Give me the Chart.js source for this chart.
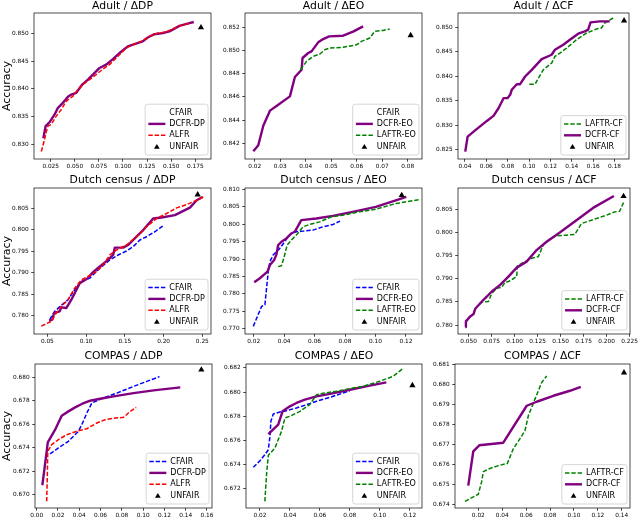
<!DOCTYPE html>
<html><head><meta charset="utf-8">
<script src="https://cdn.jsdelivr.net/npm/chart.js@4.4.0/dist/chart.umd.min.js"></script>
<style>
html,body{margin:0;padding:0;background:#fff;}
#wrap{position:relative;width:640px;height:518px;overflow:hidden;background:#fff;}
#wrap canvas{position:absolute;left:0;top:0;}
</style></head><body><div id="wrap"></div>
<script>
// ---------------- DATA ----------------
// Adult / ΔDP
const adultDP_xTicks = [0.025,0.05,0.075,0.1,0.125,0.15,0.175];
const adultDP_yTicks = [0.83,0.835,0.84,0.845,0.85];
const adultDP_CFAIR = [];
const adultDP_DCFR = [[0.0174,0.8311],[0.0198,0.8333],[0.0239,0.8340],[0.0291,0.8354],[0.0325,0.8366],[0.0377,0.8375],[0.0429,0.8386],[0.0464,0.8390],[0.0515,0.8393],[0.0577,0.8408],[0.0636,0.8417],[0.0688,0.8426],[0.0757,0.8438],[0.0826,0.8444],[0.0895,0.8454],[0.0964,0.8465],[0.1050,0.8477],[0.1119,0.8481],[0.1205,0.8486],[0.1257,0.8493],[0.1326,0.8499],[0.1413,0.8501],[0.1482,0.8504],[0.1585,0.8514],[0.1689,0.8519],[0.1734,0.8521]];
const adultDP_ALFR = [[0.0153,0.8287],[0.0181,0.8305],[0.0205,0.8323],[0.0222,0.8333],[0.0256,0.8336],[0.0308,0.8351],[0.0360,0.8363],[0.0412,0.8378],[0.0481,0.8387],[0.0533,0.8399],[0.0584,0.8408],[0.0653,0.8417],[0.0722,0.8426],[0.0791,0.8436],[0.0860,0.8444],[0.0947,0.8459],[0.1033,0.8474],[0.1102,0.8480],[0.1188,0.8486],[0.1275,0.8495],[0.1361,0.8501],[0.1447,0.8503],[0.1533,0.8510],[0.1620,0.8516],[0.1706,0.8519]];
const adultDP_UNFAIR = [[0.1809,0.8511]];

// Adult / ΔEO
const adultEO_xTicks = [0.02,0.03,0.04,0.05,0.06,0.07,0.08];
const adultEO_yTicks = [0.842,0.844,0.846,0.848,0.85,0.852];
const adultEO_CFAIR = [];
const adultEO_DCFR = [[0.01948,0.84131],[0.02143,0.84183],[0.02339,0.84352],[0.0260,0.84482],[0.02926,0.84533],[0.03382,0.84605],[0.03578,0.84772],[0.03839,0.84835],[0.03878,0.84936],[0.0410,0.84979],[0.0423,0.84993],[0.04491,0.85071],[0.04686,0.85099],[0.04921,0.85122],[0.05469,0.85128],[0.0586,0.85163],[0.06251,0.85209]];
const adultEO_LAFTR = [[0.0380,0.84835],[0.04034,0.84907],[0.04295,0.8495],[0.04556,0.8497],[0.04751,0.85007],[0.04947,0.85022],[0.05469,0.85028],[0.0599,0.8505],[0.06186,0.85079],[0.06512,0.85108],[0.06708,0.85166],[0.07034,0.85174],[0.07294,0.85186]];
const adultEO_UNFAIR = [[0.08116,0.85131]];

// Adult / ΔCF
const adultCF_xTicks = [0.04,0.06,0.08,0.10,0.12,0.14,0.16,0.18];
const adultCF_yTicks = [0.825,0.83,0.835,0.84,0.845,0.85];
const adultCF_LAFTR = [[0.1003,0.83835],[0.1056,0.83835],[0.1087,0.83958],[0.1133,0.84128],[0.1211,0.84265],[0.1242,0.84401],[0.1289,0.84469],[0.1351,0.84571],[0.1444,0.84741],[0.1537,0.84877],[0.163,0.84959],[0.1677,0.8498],[0.1708,0.85082],[0.1786,0.85184]];
const adultCF_DCFR = [[0.0403,0.8246],[0.0425,0.82766],[0.0481,0.82868],[0.0605,0.83086],[0.0667,0.83189],[0.0714,0.83345],[0.0761,0.8355],[0.0798,0.8355],[0.0823,0.83618],[0.0838,0.8372],[0.0885,0.83835],[0.0916,0.83835],[0.0963,0.83992],[0.1025,0.84128],[0.1118,0.84346],[0.1211,0.84435],[0.1242,0.84537],[0.132,0.84639],[0.1382,0.84741],[0.146,0.84864],[0.1522,0.84911],[0.1553,0.84946],[0.1575,0.85095],[0.1662,0.85116],[0.1755,0.85116]];
const adultCF_UNFAIR = [[0.1889,0.85129]];

// Dutch census / ΔDP
const dutchDP_xTicks = [0.05,0.10,0.15,0.20,0.25];
const dutchDP_yTicks = [0.78,0.785,0.79,0.795,0.80,0.805];
const dutchDP_CFAIR = [[0.053,0.77907],[0.0595,0.781],[0.0681,0.7824],[0.0767,0.78371],[0.0853,0.78604],[0.094,0.78797],[0.1047,0.78874],[0.1177,0.79107],[0.1306,0.793],[0.1414,0.79416],[0.1521,0.79509],[0.1608,0.7961],[0.1694,0.79765],[0.178,0.79842],[0.1888,0.79958],[0.1974,0.80074],[0.2008,0.80113]];
const dutchDP_DCFR = [[0.0522,0.77884],[0.0565,0.77907],[0.0586,0.78062],[0.0659,0.7810],[0.0681,0.78193],[0.0746,0.78178],[0.081,0.78371],[0.0918,0.78759],[0.1013,0.78859],[0.109,0.79014],[0.1177,0.79146],[0.1284,0.793],[0.1349,0.79416],[0.1371,0.79587],[0.1478,0.79587],[0.1543,0.79649],[0.1651,0.79842],[0.1737,0.79997],[0.1866,0.80268],[0.1974,0.80291],[0.2146,0.80345],[0.234,0.80523],[0.2427,0.80694],[0.2504,0.80771]];
const dutchDP_ALFR = [[0.0422,0.77753],[0.0552,0.77868],[0.0616,0.78062],[0.0681,0.78217],[0.0767,0.78371],[0.0853,0.78642],[0.094,0.78836],[0.1047,0.78936],[0.1134,0.79029],[0.122,0.79184],[0.1306,0.79416],[0.1392,0.79533],[0.1521,0.79649],[0.1651,0.79842],[0.178,0.80074],[0.1909,0.80268],[0.2039,0.80384],[0.2168,0.80515],[0.2297,0.80593],[0.2427,0.80694],[0.2513,0.80771]];
const dutchDP_UNFAIR = [[0.244,0.80825]];

// Dutch census / ΔEO
const dutchEO_xTicks = [0.02,0.04,0.06,0.08,0.10,0.12];
const dutchEO_yTicks = [0.77,0.775,0.78,0.785,0.79,0.795,0.80,0.805,0.81];
const dutchEO_CFAIR = [[0.0198,0.77068],[0.0252,0.7764],[0.0274,0.77687],[0.0296,0.78639],[0.0307,0.78925],[0.0328,0.79115],[0.035,0.7921],[0.0372,0.79306],[0.0404,0.79496],[0.0426,0.79639],[0.0448,0.79734],[0.048,0.79782],[0.0524,0.79801],[0.0589,0.79829],[0.0654,0.79924],[0.072,0.79991],[0.0767,0.80086]];
const dutchEO_DCFR = [[0.0204,0.78334],[0.0241,0.78449],[0.0291,0.78639],[0.0307,0.7883],[0.0335,0.78972],[0.035,0.79134],[0.0361,0.79401],[0.0383,0.79496],[0.0415,0.79591],[0.0448,0.79734],[0.047,0.79782],[0.0513,0.80115],[0.0611,0.80162],[0.072,0.80238],[0.085,0.80353],[0.1002,0.80495],[0.1133,0.80686],[0.1202,0.80781]];
const dutchEO_LAFTR = [[0.0361,0.78782],[0.0383,0.7881],[0.0398,0.7902],[0.042,0.79401],[0.0448,0.79544],[0.048,0.79686],[0.0524,0.79924],[0.0567,0.79991],[0.0633,0.80067],[0.0709,0.8021],[0.0785,0.80257],[0.0894,0.80353],[0.1002,0.80429],[0.1133,0.80591],[0.1290,0.80705]];
const dutchEO_UNFAIR = [[0.1172,0.80829]];

// Dutch census / ΔCF
const dutchCF_xTicks = [0.05,0.075,0.10,0.125,0.15,0.175,0.20,0.225];
const dutchCF_yTicks = [0.78,0.785,0.79,0.795,0.80,0.805];
const dutchCF_LAFTR = [[0.0619,0.78454],[0.0644,0.78497],[0.0716,0.78511],[0.0753,0.78691],[0.0807,0.78798],[0.0861,0.7882],[0.0897,0.78928],[0.0933,0.78942],[0.0994,0.79014],[0.1023,0.7905],[0.103,0.7928],[0.1113,0.79373],[0.1186,0.79445],[0.1258,0.79481],[0.1312,0.79732],[0.1384,0.79861],[0.1456,0.79933],[0.1564,0.79947],[0.1655,0.79961],[0.1727,0.80198],[0.1781,0.80234],[0.1889,0.80306],[0.1997,0.80378],[0.2088,0.8045],[0.2142,0.80464],[0.2185,0.80651]];
const dutchCF_DCFR = [[0.0464,0.77958],[0.0471,0.7808],[0.0518,0.78188],[0.0554,0.78238],[0.0572,0.78353],[0.0662,0.78547],[0.0753,0.78727],[0.0843,0.7887],[0.0933,0.7905],[0.1023,0.79244],[0.1131,0.79373],[0.124,0.79624],[0.1348,0.79804],[0.1492,0.80005],[0.1673,0.8027],[0.1853,0.80536],[0.208,0.80794]];
const dutchCF_UNFAIR = [[0.2185,0.80787]];

// COMPAS / ΔDP
const compasDP_xTicks = [0,0.02,0.04,0.06,0.08,0.10,0.12,0.14,0.16];
const compasDP_yTicks = [0.670,0.672,0.674,0.676,0.678,0.680];
const compasDP_CFAIR = [[0.0125,0.67347],[0.0204,0.67398],[0.0298,0.67455],[0.0392,0.6754],[0.0424,0.67597],[0.0471,0.67696],[0.0518,0.67781],[0.0565,0.67801],[0.0627,0.67824],[0.0753,0.67866],[0.091,0.67923],[0.1035,0.67966],[0.1154,0.68006]];
const compasDP_DCFR = [[0.0053,0.6708],[0.0094,0.67369],[0.0104,0.67446],[0.0173,0.67554],[0.0235,0.67673],[0.0298,0.6771],[0.0361,0.67744],[0.0424,0.67773],[0.0502,0.67801],[0.0596,0.67818],[0.0722,0.67838],[0.091,0.67866],[0.1098,0.67889],[0.1349,0.67915]];
const compasDP_ALFR = [[0.0094,0.66943],[0.0100,0.6717],[0.0104,0.67369],[0.0141,0.67426],[0.0204,0.67469],[0.0282,0.67511],[0.0376,0.6754],[0.0471,0.67562],[0.0565,0.67611],[0.0643,0.67639],[0.0737,0.67653],[0.0816,0.67659],[0.0878,0.6771],[0.0935,0.67744]];
const compasDP_UNFAIR = [[0.1547,0.68065]];

// COMPAS / ΔEO
const compasEO_xTicks = [0.02,0.04,0.06,0.08,0.10,0.12];
const compasEO_yTicks = [0.672,0.674,0.676,0.678,0.680,0.682];
const compasEO_CFAIR = [[0.0156,0.67377],[0.02,0.67432],[0.0233,0.67482],[0.0256,0.67523],[0.0267,0.67634],[0.0273,0.67758],[0.0289,0.67819],[0.0333,0.67835],[0.0378,0.67846],[0.0444,0.67869],[0.0511,0.67896],[0.0578,0.67924],[0.0667,0.67957],[0.0756,0.67993],[0.08,0.68012]];
const compasEO_DCFR = [[0.0256,0.67653],[0.0322,0.6773],[0.0351,0.67841],[0.04,0.67882],[0.0444,0.6791],[0.05,0.67938],[0.0578,0.67965],[0.0667,0.67985],[0.08,0.6802],[0.0933,0.68054],[0.1044,0.68081]];
const compasEO_LAFTR = [[0.0233,0.67095],[0.0244,0.67316],[0.0256,0.67476],[0.03,0.67537],[0.0344,0.67675],[0.0367,0.67786],[0.04,0.678],[0.0467,0.67841],[0.0533,0.67896],[0.0578,0.67979],[0.0633,0.67993],[0.0711,0.68007],[0.08,0.68029],[0.0889,0.68048],[0.1,0.6809],[0.1089,0.68131],[0.116,0.682]];
const compasEO_UNFAIR = [[0.1218,0.68056]];

// COMPAS / ΔCF
const compasCF_xTicks = [0.02,0.04,0.06,0.08,0.10,0.12,0.14];
const compasCF_yTicks = [0.674,0.675,0.676,0.677,0.678,0.679,0.680,0.681];
const compasCF_LAFTR = [[0.0088,0.67414],[0.02,0.6745],[0.0228,0.67513],[0.0242,0.67563],[0.0298,0.67579],[0.0367,0.67593],[0.0443,0.67604],[0.0465,0.67637],[0.0493,0.67678],[0.0549,0.67728],[0.0591,0.67769],[0.0619,0.67844],[0.0674,0.67926],[0.073,0.68009],[0.0772,0.68042]];
const compasCF_DCFR = [[0.0116,0.67493],[0.0158,0.67665],[0.0208,0.67695],[0.0409,0.67708],[0.0605,0.67893],[0.0688,0.67913],[0.0828,0.67943],[0.0967,0.67968],[0.1057,0.67988]];
const compasCF_UNFAIR = [[0.1419,0.68059]];

// ---------------- STYLES / LAYOUT ----------------
const FONT = "'DejaVu Sans', sans-serif";
Chart.defaults.font.family = FONT;
Chart.defaults.color = '#000';

const STY = {
  CFAIR: {color:'#0000ff', dash:[4.4,1.9], width:1.5},
  DCFR:  {color:'#800080', dash:[], width:2.4},
  ALFR:  {color:'#ff0000', dash:[4.4,1.9], width:1.5},
  LAFTR: {color:'#008000', dash:[4.4,1.9], width:1.5}
};

const panels = [
  {title:'Adult / ΔDP', L:34, R:211, T:13, B:159, gap:7, yTitle:true, xr:[0.0077,0.1913], yr:[0.82735,0.85373], xt:adultDP_xTicks, yt:adultDP_yTicks, xd:3, yd:3,
   series:[['CFAIR','CFAIR',adultDP_CFAIR],['DCFR-DP','DCFR',adultDP_DCFR],['ALFR','ALFR',adultDP_ALFR],['UNFAIR','UNFAIR',adultDP_UNFAIR]]},
  {title:'Adult / ΔEO', L:245, R:422, T:13, B:159, gap:7, yTitle:false, xr:[0.01622,0.0856], yr:[0.84065,0.85324], xt:adultEO_xTicks, yt:adultEO_yTicks, xd:2, yd:3,
   series:[['CFAIR','CFAIR',adultEO_CFAIR],['DCFR-EO','DCFR',adultEO_DCFR],['LAFTR-EO','LAFTR',adultEO_LAFTR],['UNFAIR','UNFAIR',adultEO_UNFAIR]]},
  {title:'Adult / ΔCF', L:458, R:629, T:13, B:159, gap:7, yTitle:false, xr:[0.0335,0.1935], yr:[0.8231,0.85286], xt:adultCF_xTicks, yt:adultCF_yTicks, xd:2, yd:3,
   series:[['LAFTR-CF','LAFTR',adultCF_LAFTR],['DCFR-CF','DCFR',adultCF_DCFR],['UNFAIR','UNFAIR',adultCF_UNFAIR]]},
  {title:'Dutch census / ΔDP', L:34, R:211, T:188, B:334, gap:8, yTitle:true, xr:[0.03276,0.2612], yr:[0.7757,0.8098], xt:dutchDP_xTicks, yt:dutchDP_yTicks, xd:2, yd:3,
   series:[['CFAIR','CFAIR',dutchDP_CFAIR],['DCFR-DP','DCFR',dutchDP_DCFR],['ALFR','ALFR',dutchDP_ALFR],['UNFAIR','UNFAIR',dutchDP_UNFAIR]]},
  {title:'Dutch census / ΔEO', L:245, R:422, T:188, B:334, gap:8, yTitle:false, xr:[0.01435,0.1305], yr:[0.7685,0.81038], xt:dutchEO_xTicks, yt:dutchEO_yTicks, xd:2, yd:3,
   series:[['CFAIR','CFAIR',dutchEO_CFAIR],['DCFR-EO','DCFR',dutchEO_DCFR],['LAFTR-EO','LAFTR',dutchEO_LAFTR],['UNFAIR','UNFAIR',dutchEO_UNFAIR]]},
  {title:'Dutch census / ΔCF', L:458, R:630, T:188, B:334, gap:8, yTitle:false, xr:[0.0385,0.2255], yr:[0.77807,0.80967], xt:dutchCF_xTicks, yt:dutchCF_yTicks, xd:3, yd:3,
   series:[['LAFTR-CF','LAFTR',dutchCF_LAFTR],['DCFR-CF','DCFR',dutchCF_DCFR],['UNFAIR','UNFAIR',dutchCF_UNFAIR]]},
  {title:'COMPAS / ΔDP', L:35, R:212, T:364, B:508, gap:8, yTitle:true, xr:[-0.0016,0.1647], yr:[0.66886,0.68114], xt:compasDP_xTicks, yt:compasDP_yTicks, xd:2, yd:3,
   series:[['CFAIR','CFAIR',compasDP_CFAIR],['DCFR-DP','DCFR',compasDP_DCFR],['ALFR','ALFR',compasDP_ALFR],['UNFAIR','UNFAIR',compasDP_UNFAIR]]},
  {title:'COMPAS / ΔEO', L:246, R:422, T:364, B:508, gap:8, yTitle:false, xr:[0.0107,0.1282], yr:[0.6704,0.68233], xt:compasEO_xTicks, yt:compasEO_yTicks, xd:2, yd:3,
   series:[['CFAIR','CFAIR',compasEO_CFAIR],['DCFR-EO','DCFR',compasEO_DCFR],['LAFTR-EO','LAFTR',compasEO_LAFTR],['UNFAIR','UNFAIR',compasEO_UNFAIR]]},
  {title:'COMPAS / ΔCF', L:455, R:630, T:364, B:508, gap:8, yTitle:false, xr:[0.0005,0.1469], yr:[0.67381,0.68102], xt:compasCF_xTicks, yt:compasCF_yTicks, xd:2, yd:3,
   series:[['LAFTR-CF','LAFTR',compasCF_LAFTR],['DCFR-CF','DCFR',compasCF_DCFR],['UNFAIR','UNFAIR',compasCF_UNFAIR]]}
];

// ---------------- PLUGINS ----------------
const framePlugin = {
  id:'frame',
  afterDatasetsDraw(chart){
    const {ctx, chartArea:a} = chart;
    ctx.save();
    ctx.strokeStyle = '#000'; ctx.lineWidth = 0.7; ctx.setLineDash([]);
    ctx.strokeRect(a.left, a.top, a.right-a.left, a.bottom-a.top);
    ctx.restore();
  }
};

function triPath(ctx, x, y, r){
  ctx.beginPath();
  ctx.moveTo(x, y - r);
  ctx.lineTo(x + r*Math.sin(2*Math.PI/3), y - r*Math.cos(2*Math.PI/3));
  ctx.lineTo(x + r*Math.sin(4*Math.PI/3), y - r*Math.cos(4*Math.PI/3));
  ctx.closePath();
}

const legendPlugin = {
  id:'mplLegend',
  afterDraw(chart, args, opts){
    const {ctx, chartArea:a} = chart;
    const items = chart.data.datasets;
    const fs = 8, rowH = 11.4, padX = 3.2, padY = 2.6, hLen = 17, gap = 4;
    ctx.save();
    ctx.font = fs + "px " + FONT;
    let tw = 0;
    items.forEach(d => { tw = Math.max(tw, ctx.measureText(d.label).width); });
    const w = padX + hLen + gap + tw + padX;
    const h = padY*2 + rowH*items.length;
    const right = a.right - 3, bottom = a.bottom - 4;
    const left = right - w, top = bottom - h, rr = 2.5;
    ctx.beginPath();
    ctx.moveTo(left+rr, top); ctx.lineTo(right-rr, top); ctx.arcTo(right, top, right, top+rr, rr);
    ctx.lineTo(right, bottom-rr); ctx.arcTo(right, bottom, right-rr, bottom, rr);
    ctx.lineTo(left+rr, bottom); ctx.arcTo(left, bottom, left, bottom-rr, rr);
    ctx.lineTo(left, top+rr); ctx.arcTo(left, top, left+rr, top, rr);
    ctx.closePath();
    ctx.fillStyle = 'rgba(255,255,255,0.85)'; ctx.fill();
    ctx.strokeStyle = '#cccccc'; ctx.lineWidth = 0.8; ctx.stroke();
    items.forEach((d, i) => {
      const cy = top + padY + rowH*(i+0.5);
      const hx = left + padX;
      if (d.kind === 'UNFAIR') {
        triPath(ctx, hx + hLen/2, cy + 0.5, 3.3);
        ctx.fillStyle = '#000'; ctx.fill();
      } else if (d.data.length) {
        ctx.beginPath();
        ctx.setLineDash(d.borderDash || []);
        ctx.strokeStyle = d.borderColor; ctx.lineWidth = d.borderWidth;
        ctx.moveTo(hx, cy); ctx.lineTo(hx + hLen, cy); ctx.stroke();
        ctx.setLineDash([]);
      }
      ctx.fillStyle = '#000'; ctx.textBaseline = 'middle'; ctx.textAlign = 'left';
      ctx.fillText(d.label, hx + hLen + gap, cy);
    });
    ctx.restore();
  }
};

// ---------------- BUILD ----------------
const wrap = document.getElementById('wrap');
const TICK_FS = 5.8, TITLE_FS = 10.8, HX = 9;

panels.forEach(p => {
  const cv = document.createElement('canvas');
  cv.width = 640; cv.height = 518;
  cv.style.width = '640px'; cv.style.height = '518px';
  wrap.appendChild(cv);
  const Wy = p.yTitle ? (p.L - 0.4) : 30;
  const titleCenter = p.T - p.gap;
  const padTop = titleCenter - TITLE_FS/2;
  const titleBottom = p.T - padTop - TITLE_FS;
  const n = p.series.length;
  const datasets = p.series.map(([label, kind, pts], i) => {
    const data = pts.map(([x, y]) => ({x, y}));
    if (kind === 'UNFAIR') {
      return {label, kind, data, showLine:false, pointStyle:'triangle', pointRadius:3.6, pointHoverRadius:3.6,
              backgroundColor:'#000', borderColor:'#000', pointBorderWidth:0, borderWidth:0, order:n-i};
    }
    const s = STY[kind];
    return {label, kind, data, showLine:true, borderColor:s.color, backgroundColor:s.color, borderWidth:s.width,
            borderDash:s.dash, borderJoinStyle:'round', borderCapStyle:'butt', pointRadius:0, pointHoverRadius:0,
            tension:0, fill:false, order:n-i};
  });
  const gridOpt = {display:true, drawOnChartArea:false, drawTicks:true, tickLength:2.8, color:'#000', lineWidth:0.7};
  new Chart(cv, {
    type:'scatter',
    data:{datasets},
    options:{
      responsive:false, animation:false, devicePixelRatio:1, events:[],
      layout:{padding:{left:p.L - Wy, right:640 - p.R, top:padTop, bottom:518 - p.B - HX}},
      plugins:{
        legend:{display:false}, tooltip:{enabled:false},
        title:{display:true, text:p.title, fullSize:false, color:'#000',
               font:{size:TITLE_FS, family:FONT, weight:'normal', lineHeight:1},
               padding:{top:0, bottom:titleBottom}}
      },
      scales:{
        x:{type:'linear', position:'bottom', min:p.xr[0], max:p.xr[1],
           afterBuildTicks:(s)=>{ s.ticks = p.xt.map(v => ({value:v})); },
           afterFit:(s)=>{ s.height = HX; },
           ticks:{callback:(v)=>Number(v).toFixed(p.xd), font:{size:TICK_FS, family:FONT}, color:'#000',
                  padding:1.2, maxRotation:0, minRotation:0, autoSkip:false},
           grid:gridOpt, border:{display:false}},
        y:{type:'linear', position:'left', min:p.yr[0], max:p.yr[1],
           afterBuildTicks:(s)=>{ s.ticks = p.yt.map(v => ({value:v})); },
           afterFit:(s)=>{ s.width = Wy; },
           ticks:{callback:(v)=>Number(v).toFixed(p.yd), font:{size:TICK_FS, family:FONT}, color:'#000',
                  padding:2.6, autoSkip:false},
           grid:gridOpt, border:{display:false},
           title: p.yTitle ? {display:true, text:'Accuracy', color:'#000', padding:0,
                              font:{size:11, family:FONT, lineHeight:1.2}} : {display:false}}
      }
    },
    plugins:[framePlugin, legendPlugin]
  });
});
</script>
</body></html>
